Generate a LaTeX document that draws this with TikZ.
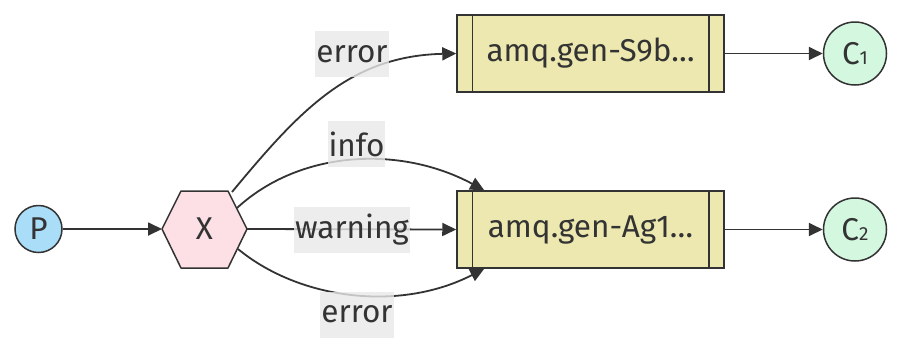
\documentclass[tikz,border=0pt]{standalone}
\usepackage{fontspec}
\setmainfont{Fira Sans}
\usetikzlibrary{arrows.meta,calc}
\definecolor{ln}{HTML}{333333}
\definecolor{pblue}{HTML}{AADDF7}
\definecolor{xpink}{HTML}{FCE0E6}
\definecolor{qkhaki}{HTML}{ECE8B0}
\definecolor{cgreen}{HTML}{D4F7E0}
\definecolor{lblbg}{HTML}{E8E8E8}
\tikzset{
  circ/.style={circle, draw=ln, line width=1.5pt, inner sep=0pt, text=ln},
  queue/.style={rectangle, draw=ln, line width=1.5pt, fill=qkhaki, minimum width=267pt, minimum height=77pt, inner sep=0pt, text=ln},
  edge/.style={draw=ln, line width=1.8pt, -{Triangle[length=14pt,width=13pt]}},
  lbl/.style={fill=lblbg, fill opacity=0.8, text opacity=1, text=ln, inner xsep=1pt, inner ysep=0pt, minimum height=46pt}
}
\newcommand{\smallsub}[1]{{\fontsize{19}{19}\selectfont #1}}
\begin{document}
\begin{tikzpicture}[x=1pt,y=-1pt, font=\fontsize{31.5}{37}\selectfont]
\useasboundingbox (0,0) rectangle (918,360);
% nodes
\node[circ, fill=pblue, minimum size=47pt] (P) at (38.5,229) {P};
\coordinate (h1) at (162,229);
\coordinate (h2) at (181,191);
\coordinate (h3) at (228,191);
\coordinate (h4) at (247,229);
\coordinate (h5) at (228,268);
\coordinate (h6) at (181,268);
\filldraw[fill=xpink, draw=ln, line width=1.5pt, line join=round] (h1) -- (h2) -- (h3) -- (h4) -- (h5) -- (h6) -- cycle;
\node[text=ln] (X) at (204.5,229) {X};
\node[queue] (Q1) at (590.5,53.5) {amq.gen-S9b…};
\node[queue] (Q2) at (590.5,229.5) {amq.gen-Ag1…};
\foreach \q in {Q1,Q2}{
  \draw[ln, line width=1.5pt] ($(\q.north west)+(16,0)$) -- ($(\q.south west)+(16,0)$);
  \draw[ln, line width=1.5pt] ($(\q.north east)+(-16,0)$) -- ($(\q.south east)+(-16,0)$);
}
\node[circ, fill=cgreen, minimum size=63pt] (C1) at (855,53.5) {C\smallsub{1}};
\node[circ, fill=cgreen, minimum size=63pt] (C2) at (855,229.5) {C\smallsub{2}};
% connector anchors
\coordinate (e1) at (232,192);
\coordinate (e2) at (237,208);
\coordinate (e3) at (238,249);
\coordinate (q2a) at ($(Q2.north west)+(28,0)$);
\coordinate (q2b) at ($(Q2.south west)+(28,0)$);
% edges
\draw[edge] (P) -- (h1);
\draw[edge] (Q1) -- (C1);
\draw[edge] (Q2) -- (C2);
\draw[edge] (h4) -- (Q2.west);
\draw[edge] (e1) .. controls (300,110) and (350,56) .. (Q1.west);
\draw[edge] (e2) .. controls (300,150) and (400,145) .. (q2a);
\draw[edge] (e3) .. controls (300,300) and (400,312) .. (q2b);
% labels
\node[lbl] (L1) at (352,54) {error};
\node[lbl] (L2) at (356.5,144) {info};
\node[lbl] (L3) at (352,229.5) {warning};
\node[lbl] (L4) at (357,314.5) {error};
\end{tikzpicture}
\end{document}
